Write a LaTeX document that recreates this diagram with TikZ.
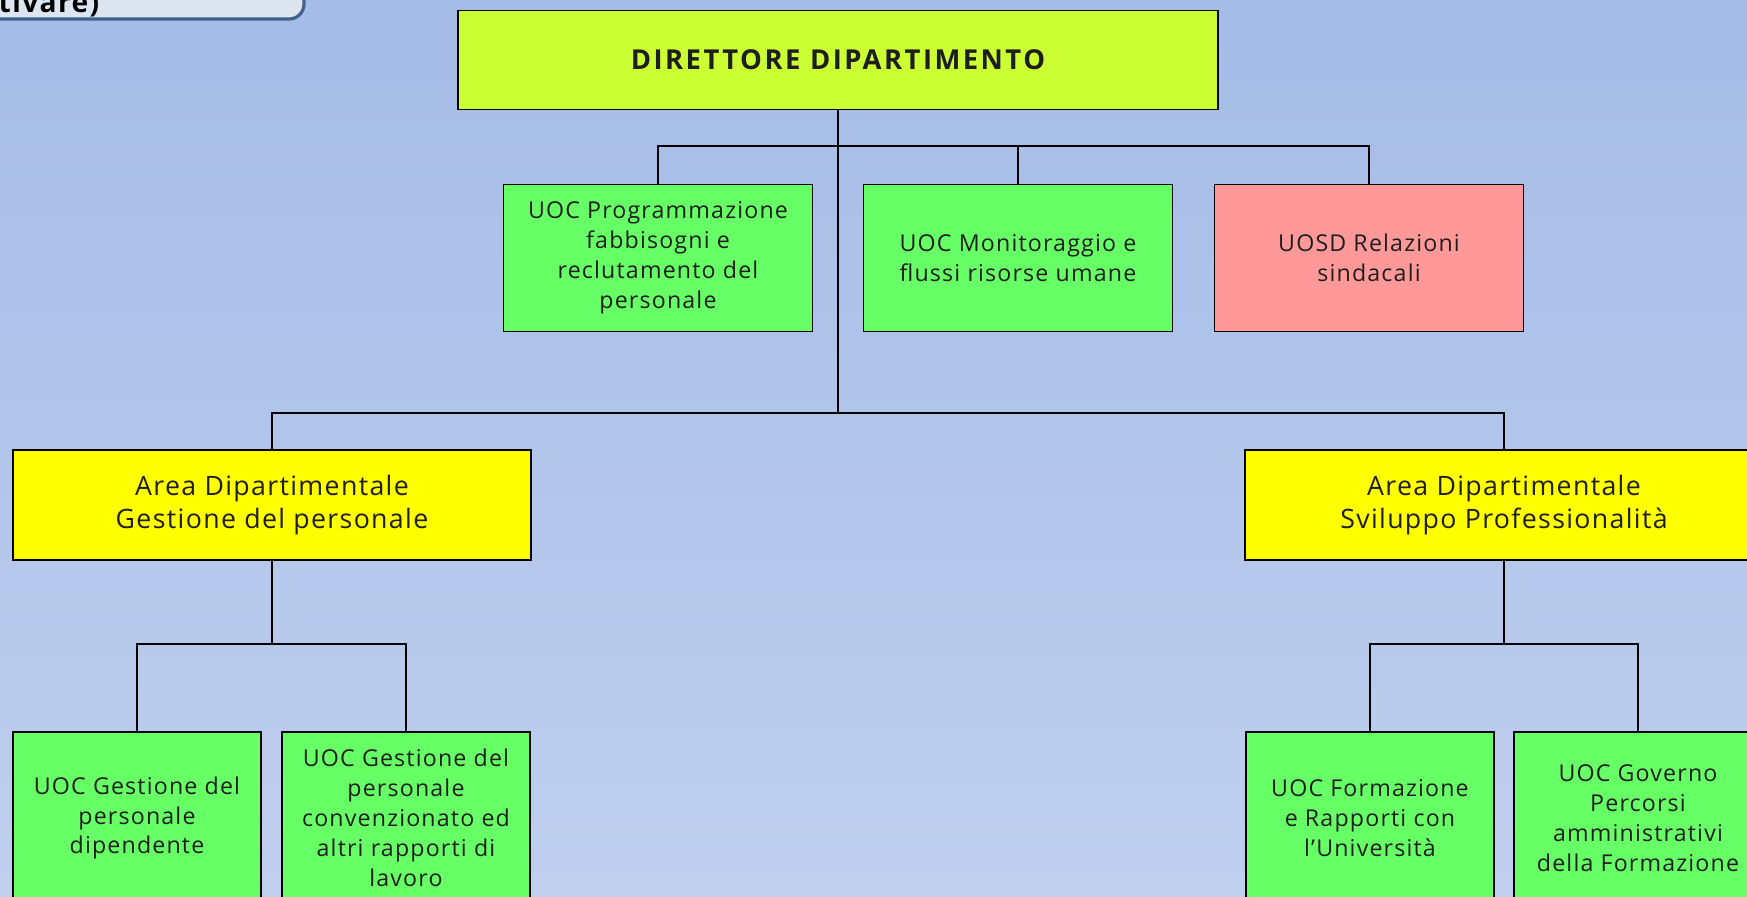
\documentclass[tikz,border=0pt]{standalone}
\usepackage{fontspec}
\setmainfont{Open Sans}[LetterSpace=5]
\newfontfamily\dirfont{Open Sans}[LetterSpace=9]
\definecolor{bgtop}{RGB}{164,188,230}
\definecolor{bgbot}{RGB}{192,207,238}
\definecolor{dircol}{RGB}{204,255,51}
\definecolor{uoccol}{RGB}{102,255,102}
\definecolor{uosdcol}{RGB}{255,153,153}
\definecolor{areacol}{RGB}{255,255,0}
\definecolor{notefill}{RGB}{221,229,241}
\definecolor{notedraw}{RGB}{65,98,143}
\definecolor{txtcol}{RGB}{30,30,30}
\begin{document}
\begin{tikzpicture}[x=0.01cm,y=-0.01cm,
  box/.style={draw,line width=0.5pt,inner sep=0pt,align=center,text=txtcol},
  dirbox/.style={box,fill=dircol,minimum width=7.59cm,minimum height=0.99cm,font=\dirfont\bfseries\fontsize{7.8}{9}\selectfont},
  uoc/.style={box,fill=uoccol,font=\fontsize{6.6}{8.5}\selectfont},
  uosd/.style={uoc,fill=uosdcol},
  area/.style={box,fill=areacol,minimum width=5.17cm,minimum height=1.1cm,font=\fontsize{7.6}{9.6}\selectfont},
  topbox/.style={minimum width=3.09cm,minimum height=1.47cm},
  lowbox/.style={minimum width=2.48cm,minimum height=1.72cm}]
\useasboundingbox (0,0) rectangle (1747,896);
\shade[top color=bgtop,bottom color=bgbot] (0,0) rectangle (1747,896);
\draw[notedraw,fill=notefill,line width=0.9pt,rounded corners=0.15cm] (-300,-40) rectangle (304,19);
\node[anchor=base east,font=\bfseries\fontsize{8}{10}\selectfont,inner sep=0pt] (nota) at (100,12) {ttivare)};
\node[dirbox] (dir) at (838,60) {DIRETTORE DIPARTIMENTO};
\node[uoc,topbox] (prog) at (658,258) {UOC Programmazione\\fabbisogni e\\reclutamento del\\personale};
\node[uoc,topbox] (moni) at (1018,258) {UOC Monitoraggio e\\flussi risorse umane};
\node[uosd,topbox] (uosd) at (1369,258) {UOSD Relazioni\\sindacali};
\node[area] (areaG) at (272,505) {Area Dipartimentale\\Gestione del personale};
\node[area] (areaS) at (1504,505) {Area Dipartimentale\\Sviluppo Professionalità};
\node[uoc,lowbox] (gdip) at (137,818) {UOC Gestione del\\personale\\dipendente};
\node[uoc,lowbox] (gconv) at (406,818) {UOC Gestione del\\personale\\convenzionato ed\\altri rapporti di\\lavoro};
\node[uoc,lowbox] (form) at (1370,818) {UOC Formazione\\e Rapporti con\\l’Università};
\node[uoc,lowbox] (gov) at (1638,818) {UOC Governo\\Percorsi\\amministrativi\\della Formazione};
\coordinate (bus1) at (838,146);
\coordinate (bus2) at (838,413);
\coordinate (busG) at (272,644);
\coordinate (busS) at (1504,644);
\draw[line width=0.5pt] (dir.south) -- (bus2);
\draw[line width=0.5pt] (prog.north) |- (bus1) -| (uosd.north);
\draw[line width=0.5pt] (moni.north) -- (moni.north |- bus1);
\draw[line width=0.5pt] (areaG.north) |- (bus2) -| (areaS.north);
\draw[line width=0.5pt] (areaG.south) -- (busG);
\draw[line width=0.5pt] (gdip.north) |- (busG) -| (gconv.north);
\draw[line width=0.5pt] (areaS.south) -- (busS);
\draw[line width=0.5pt] (form.north) |- (busS) -| (gov.north);
\end{tikzpicture}
\end{document}
